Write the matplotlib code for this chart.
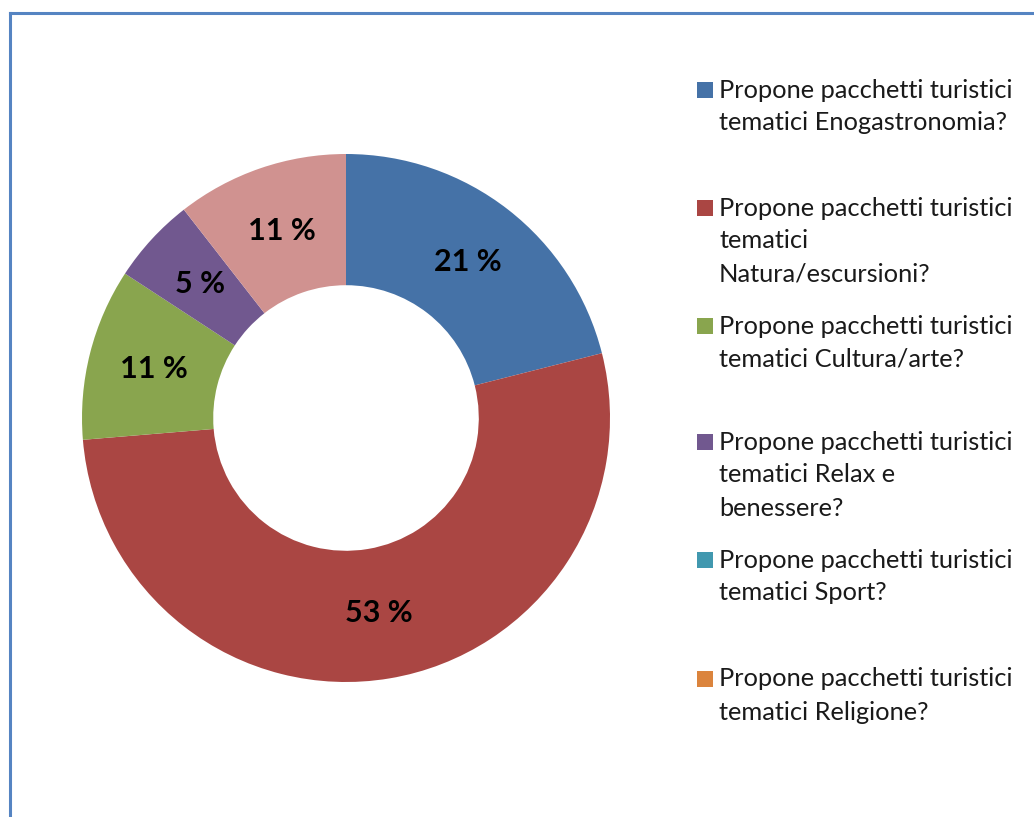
import matplotlib
matplotlib.use("Agg")
import matplotlib.pyplot as plt
from matplotlib.lines import Line2D
from matplotlib.patches import Rectangle

# Survey answers: number of agencies offering each kind of themed package
categories = [
    "Propone pacchetti turistici tematici Enogastronomia?",
    "Propone pacchetti turistici tematici Natura/escursioni?",
    "Propone pacchetti turistici tematici Cultura/arte?",
    "Propone pacchetti turistici tematici Relax e benessere?",
    "Propone pacchetti turistici tematici Sport?",
    "Propone pacchetti turistici tematici Religione?",
    "Altro",
]
counts = [4, 10, 2, 1, 0, 0, 2]
colors = ["#4572A7", "#AA4643", "#89A54E", "#71588F", "#4198AF", "#DB843D", "#D09290"]

# Legend text as it wraps in the side panel (first six series)
legend_lines = [
    ["Propone pacchetti turistici", "tematici Enogastronomia?"],
    ["Propone pacchetti turistici", "tematici", "Natura/escursioni?"],
    ["Propone pacchetti turistici", "tematici Cultura/arte?"],
    ["Propone pacchetti turistici", "tematici Relax e", "benessere?"],
    ["Propone pacchetti turistici", "tematici Sport?"],
    ["Propone pacchetti turistici", "tematici Religione?"],
]
legend_tops = [90, 208, 326, 442, 560, 679]  # pixel y of first line centre

W, H = 1034, 817
fig = plt.figure(figsize=(W / 100, H / 100), dpi=100)
fig.patch.set_facecolor("white")

# Donut axes placed so the ring is centred at (346, 418) px with radius 264 px
cx, cy, R = 346, 418, 264
ax = fig.add_axes([(cx - R) / W, (H - cy - R) / H, 2 * R / W, 2 * R / H])


def pct_label(p):
    return f"{round(p):d} %" if p > 0.5 else ""


wedges, _, autotexts = ax.pie(
    counts,
    colors=colors,
    startangle=90,
    counterclock=False,
    radius=1.0,
    autopct=pct_label,
    pctdistance=0.75,
    wedgeprops=dict(width=0.497, linewidth=0),
    textprops=dict(fontsize=22, fontweight="bold", color="black", family="Lato"),
)
ax.set_xlim(-1, 1)
ax.set_ylim(-1, 1)
ax.set_aspect("equal")
ax.axis("off")

# Legend: coloured squares with wrapped labels
line_gap = 33
for i, lines in enumerate(legend_lines):
    y0 = legend_tops[i]
    sq = 16
    fig.add_artist(Rectangle(((697) / W, (H - y0 - sq / 2) / H), sq / W, sq / H,
                             transform=fig.transFigure, facecolor=colors[i],
                             edgecolor="none"))
    for j, txt in enumerate(lines):
        fig.text(719 / W, (H - (y0 + j * line_gap)) / H, txt, ha="left", va="center",
                 fontsize=18.3, family="Lato", color="#1a1a1a")

# Chart frame (top and left borders)
frame_color = "#5584C2"
fig.add_artist(Line2D([10 / W, 1.0], [(H - 13) / H, (H - 13) / H],
                      transform=fig.transFigure, color=frame_color, linewidth=2.2))
fig.add_artist(Line2D([10 / W, 10 / W], [(H - 13) / H, 0.0],
                      transform=fig.transFigure, color=frame_color, linewidth=2.2))

fig.savefig("out.png", dpi=100, facecolor="white")
